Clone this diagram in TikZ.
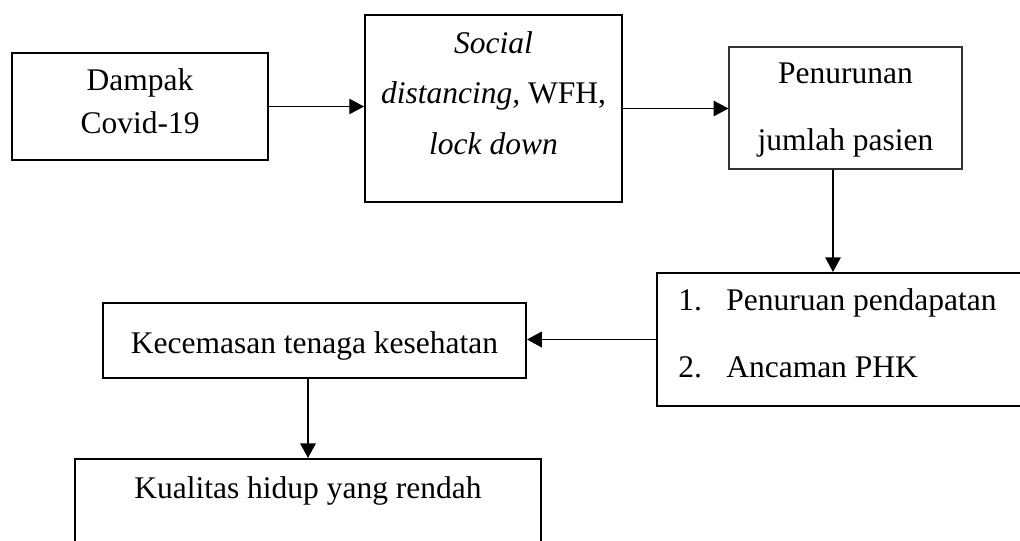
\documentclass[tikz,border=0pt]{standalone}
\usepackage{fontspec}
\setmainfont{Liberation Serif}
\usetikzlibrary{arrows.meta}
\def\pxu{0.025cm}
\tikzset{
  box/.style={draw, inner sep=0pt, line width=1.4pt},
  thinbox/.style={draw=black!80, inner sep=0pt, line width=0.8pt},
  txt/.style={font=\fontsize{22.4}{26}\selectfont, inner sep=0pt, anchor=base},
  ltxt/.style={font=\fontsize{22.4}{26}\selectfont, inner sep=0pt, anchor=base west},
  arr/.style={-{Triangle[length=10.5pt,width=11pt]}, line width=1.4pt},
  thinarr/.style={-{Triangle[length=10.5pt,width=11pt]}, line width=0.8pt}
}
\begin{document}
\begin{tikzpicture}[x=0.025cm,y=-0.025cm]
\useasboundingbox (0,0) rectangle (1020,540);
% boxes
\node[box, minimum width=256*\pxu, minimum height=107*\pxu] (b1) at (140,106.5) {};
\node[box, minimum width=257*\pxu, minimum height=187*\pxu] (b2) at (493.5,108.5) {};
\node[thinbox, minimum width=233*\pxu, minimum height=122*\pxu] (b3) at (845.5,108) {};
\node[box, minimum width=373*\pxu, minimum height=133*\pxu] (b4) at (843.5,339.5) {};
\node[box, minimum width=423*\pxu, minimum height=75*\pxu] (b5) at (314.5,340.5) {};
\node[box, minimum width=466*\pxu, minimum height=141*\pxu] (b6) at (308,529.5) {};
% texts
\node[txt] (t1a) at (140,90) {Dampak};
\node[txt] (t1b) at (140,133) {Covid-19};
\node[txt] (t2a) at (493.5,53) {\textit{Social}};
\node[txt] (t2b) at (493.5,103) {\textit{distancing,} WFH,};
\node[txt] (t2c) at (493.5,154) {\textit{lock down}};
\node[txt] (t3a) at (845.5,83) {Penurunan};
\node[txt] (t3b) at (845.5,150) {jumlah pasien};
\node[ltxt] (n1) at (678,310) {1.};
\node[ltxt] (l1) at (726,310) {Penuruan pendapatan};
\node[ltxt] (n2) at (678,377) {2.};
\node[ltxt] (l2) at (726,377) {Ancaman PHK};
\node[txt] (t5) at (314.5,353) {Kecemasan tenaga kesehatan};
\node[txt] (t6) at (308,498) {Kualitas hidup yang rendah};
% connectors
\coordinate (c3) at (833,0);
\draw[thinarr] (b1.east) -- (b1.east -| b2.west);
\draw[thinarr] (b2.east) -- (b2.east -| b3.west);
\draw[arr] (c3 |- b3.south) -- (c3 |- b4.north);
\draw[arr] (b4.west) -- (b4.west -| b5.east);
\draw[arr] (b5.south -| b6.north) -- (b6.north);
\end{tikzpicture}
\end{document}
